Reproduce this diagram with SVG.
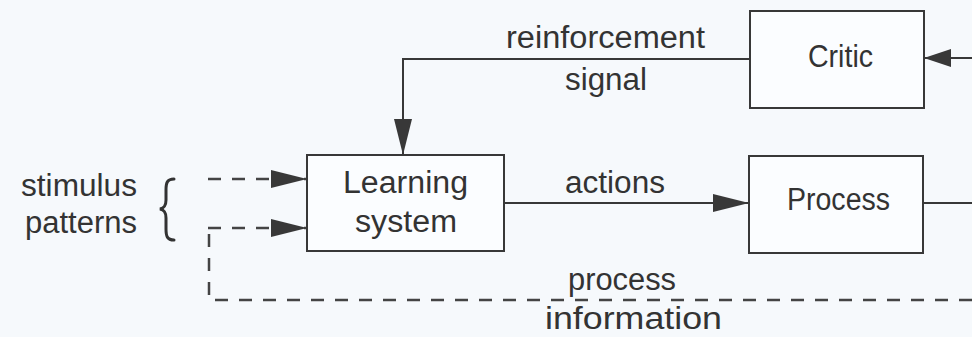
<svg xmlns="http://www.w3.org/2000/svg" width="972" height="337" viewBox="0 0 972 337">
  <defs>
    <style>
      .box { fill: #fbfdff; stroke: #383838; stroke-width: 2; }
      .line { fill: none; stroke: #383838; stroke-width: 2; }
      .dash { fill: none; stroke: #444; stroke-width: 2.5; stroke-dasharray: 13 11; }
      .lbl { font-family: "Liberation Sans", Arial, sans-serif; font-size: 31px; fill: #333; }
      .brace { fill: none; stroke: #333; stroke-width: 3; stroke-linecap: round; }
    </style>
    <marker id="arrow" viewBox="0 0 36 18" refX="36" refY="9" markerWidth="36" markerHeight="18" markerUnits="userSpaceOnUse" orient="auto">
      <path d="M0,0 L36,9 L0,18 Z" fill="#383838"/>
    </marker>
    <marker id="arrow-short" viewBox="0 0 27 18" refX="27" refY="9" markerWidth="27" markerHeight="18" markerUnits="userSpaceOnUse" orient="auto">
      <path d="M0,0 L27,9 L0,18 Z" fill="#383838"/>
    </marker>
  </defs>

  <rect width="972" height="337" fill="#f6f9fc"/>

  <!-- connectors -->
  <g id="connectors">
    <!-- reinforcement signal: Critic -> Learning system -->
    <path class="line" d="M750,59 L403,59 L403,155" marker-end="url(#arrow)"/>
    <!-- actions: Learning system -> Process -->
    <path class="line" d="M504,203 L749,203" marker-end="url(#arrow)"/>
    <!-- incoming state into Critic -->
    <path class="line" d="M972,58 L924,58" marker-end="url(#arrow-short)"/>
    <!-- Process output -->
    <path class="line" d="M923,203 L972,203"/>
    <!-- stimulus patterns inputs -->
    <path class="dash" d="M208,179 L307,179" marker-end="url(#arrow)"/>
    <path class="dash" d="M208,228 L307,228" marker-end="url(#arrow)"/>
    <!-- process information feedback -->
    <path class="dash" d="M972,300 L209,300 L209,228"/>
  </g>

  <!-- nodes -->
  <g id="critic">
    <rect class="box" x="750" y="11" width="174" height="97"/>
    <text class="lbl" x="808" y="67" textLength="65" lengthAdjust="spacingAndGlyphs">Critic</text>
  </g>
  <g id="learning-system">
    <rect class="box" x="307" y="155" width="197" height="96"/>
    <text class="lbl" x="343" y="193" textLength="125" lengthAdjust="spacingAndGlyphs">Learning</text>
    <text class="lbl" x="355" y="232" textLength="102" lengthAdjust="spacingAndGlyphs">system</text>
  </g>
  <g id="process">
    <rect class="box" x="749" y="156" width="174" height="97"/>
    <text class="lbl" x="787" y="210" textLength="103" lengthAdjust="spacingAndGlyphs">Process</text>
  </g>

  <!-- stimulus patterns label with brace -->
  <g id="stimulus-patterns">
    <text class="lbl" x="21" y="196" textLength="116" lengthAdjust="spacingAndGlyphs">stimulus</text>
    <text class="lbl" x="25" y="233" textLength="112" lengthAdjust="spacingAndGlyphs">patterns</text>
    <path class="brace" d="M174,179 C167,179 166,183 166,190 L166,200 C166,206 164,208 160,209 C164,210 166,212 166,218 L166,229 C166,236 167,240 174,240"/>
  </g>

  <!-- connector labels -->
  <g id="labels">
    <text class="lbl" x="506" y="48" textLength="199" lengthAdjust="spacingAndGlyphs">reinforcement</text>
    <text class="lbl" x="565" y="90" textLength="82" lengthAdjust="spacingAndGlyphs">signal</text>
    <text class="lbl" x="565" y="193" textLength="100" lengthAdjust="spacingAndGlyphs">actions</text>
    <text class="lbl" x="568" y="290" textLength="108" lengthAdjust="spacingAndGlyphs">process</text>
    <text class="lbl" x="545" y="329" textLength="177" lengthAdjust="spacingAndGlyphs">information</text>
  </g>
</svg>
